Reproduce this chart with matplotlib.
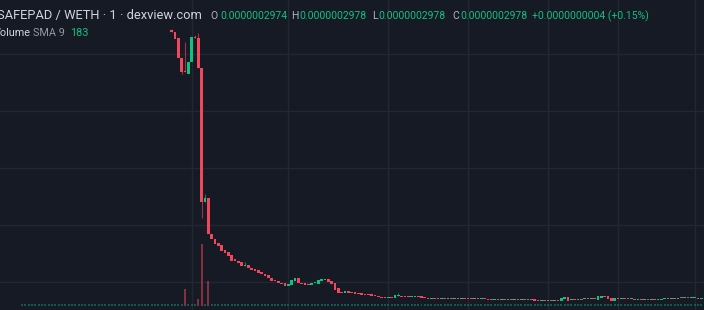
import matplotlib.pyplot as plt

# -----------------------------
# Candle data (price in 1e-9 WETH), one entry per 1-minute candle
# -----------------------------
opens = [
    5021, 4986, 4881, 4530, 4302, 4249, 4460, 4898, 4881, 4354,
    2003, 2074, 1442, 1354, 1284, 1249, 1161, 1126, 1074, 995,
    968, 951, 881, 898, 851, 828, 802, 767, 740, 723,
    670, 635, 617, 591, 574, 530, 547, 623, 665, 582,
    574, 565, 553, 579, 565, 623, 635, 653, 617, 577,
    489, 419, 402, 442, 425, 430, 407, 402, 389, 389,
    384, 377, 354, 337, 337, 325, 333, 325, 349, 363,
    349, 346, 337, 340, 346, 354, 319, 314, 307, 314,
    311, 305, 311, 307, 311, 305, 311, 307, 314, 325,
    302, 296, 302, 297, 302, 305, 293, 288, 293, 290,
    296, 290, 293, 288, 293, 288, 290, 286, 290, 297,
    272, 267, 272, 268, 272, 267, 270, 267, 307, 342,
    284, 290, 284, 293, 297, 314, 305, 311, 284, 325,
    354, 354, 325, 267, 314, 305, 311, 302, 296, 302,
    293, 300, 290, 297, 290, 297, 293, 293, 300, 305,
    300, 307, 302, 319, 314, 319, 314, 314, 325, 297.4,
]
closes = [
    4986, 4863, 4530, 4284, 4284, 4460, 4898, 4872, 4354, 2003,
    2074, 1442, 1354, 1275, 1232, 1144, 1109, 1056, 968, 960,
    942, 881, 898, 840, 819, 793, 758, 732, 714, 665,
    623, 612, 591, 565, 530, 565, 635, 665, 582, 565,
    553, 556, 588, 588, 635, 647, 653, 605, 560, 460,
    402, 402, 447, 412, 407, 384, 384, 377, 372, 366,
    354, 349, 332, 328, 325, 333, 325, 372, 363, 342,
    337, 337, 346, 346, 340, 311, 311, 307, 314, 307,
    305, 311, 305, 311, 305, 311, 307, 314, 307, 297,
    296, 302, 297, 302, 296, 293, 288, 293, 288, 296,
    290, 293, 288, 293, 288, 290, 286, 290, 286, 267,
    267, 272, 268, 272, 267, 270, 267, 325, 342, 272,
    290, 284, 293, 286, 314, 305, 311, 302, 354, 354,
    337, 297, 267, 314, 305, 311, 302, 296, 302, 293,
    300, 290, 297, 290, 297, 293, 300, 302, 305, 300,
    307, 302, 325, 314, 319, 314, 317, 332, 302, 297.8,
]
# wicks that reach beyond the body
wick_high = {0: 5039, 4: 4811, 7: 4933, 8: 4968, 10: 2144, 22: 951, 68: 402}
wick_low = {3: 4249, 9: 1723}

# volume: bars before the first traded candle, then one per candle
volume_pre = [
    180, 180, 180, 180, 180, 180, 180, 180, 180, 180, 180, 180, 180, 180, 180,
    180, 180, 180, 180, 180, 180, 180, 180, 180, 180, 180, 180, 180, 180, 180,
    180, 180, 180, 180, 180, 180, 180, 180, 180, 180, 180, 180, 180, 180, 180,
]
volume_big = {4: 1530, 8: 630, 9: 5580, 11: 2250}
volume_small = 180

# vertical grid (time ticks) and horizontal grid (price levels)
time_ticks = [6, 35, 65, 89, 113, 134, 157]
price_levels = [600, 1600, 2600, 3600, 4600]

BG = "#161a25"
GRID = "#232733"
UP = "#12c07f"
DOWN = "#f0475c"

# -----------------------------
# Plot
# -----------------------------
fig = plt.figure(figsize=(7.04, 3.10), dpi=100)
fig.patch.set_facecolor(BG)
ax = fig.add_axes([0, 0, 1, 1])
ax.set_facecolor(BG)

n = len(opens)
px = 17.544  # price units per pixel
x = list(range(n))
bottoms, heights, colors = [], [], []
for i in x:
    o, c = opens[i], closes[i]
    col = UP if c >= o else DOWN
    colors.append(col)
    lo, hi = min(o, c), max(o, c)
    h = max(hi - lo, px)
    bottoms.append(lo)
    heights.append(h)
    top = wick_high.get(i, hi)
    bot = wick_low.get(i, lo)
    if top > hi or bot < lo:
        ax.vlines(i, bot, top, color=col, linewidth=0.8, alpha=0.6, zorder=2)

ax.bar(x, heights, bottom=bottoms, width=0.8, color=colors, linewidth=0, zorder=3)

for t in time_ticks:
    ax.axvline(t, color=GRID, linewidth=1, zorder=0)
for p in price_levels:
    ax.axhline(p, color=GRID, linewidth=1, zorder=0)

ax.set_xlim(-51.6, 159.85)
ax.set_ylim(108.8, 5547.4)
ax.axis("off")

# volume overlay
vax = fig.add_axes([0, 0, 1, 1], sharex=ax)
vax.patch.set_alpha(0)
vx = list(range(-len(volume_pre), n))
vols = volume_pre + [volume_big.get(i, volume_small) for i in x]
vcol = []
for i in vx:
    if i in volume_big:
        vcol.append((0.94, 0.28, 0.36, 0.5))
    else:
        vcol.append((0.05, 0.55, 0.45, 0.55))
vax.bar(vx, vols, width=0.6, color=vcol, linewidth=0)
vax.set_ylim(-360, 27540)
vax.axis("off")

# -----------------------------
# Header texts
# -----------------------------
def ptext(xp, yp, s, color, size, **kw):
    fig.text(xp / 704, 1 - yp / 310, s, color=color, fontsize=size,
             family="Roboto", va="baseline", ha="left", **kw)

ptext(-3, 19, "SAFEPAD / WETH · 1 · dexview.com", "#d1d4dc", 9.3)
ptext(210, 19, "O", "#b2b5be", 7.5)
ptext(220, 19, "0.0000002974", UP, 7.5)
ptext(291, 19, "H", "#b2b5be", 7.5)
ptext(299, 19, "0.0000002978", UP, 7.5)
ptext(372, 19, "L", "#b2b5be", 7.5)
ptext(378, 19, "0.0000002978", UP, 7.5)
ptext(452, 19, "C", "#b2b5be", 7.5)
ptext(460, 19, "0.0000002978", UP, 7.5)
ptext(532, 19, "+0.0000000004 (+0.15%)", UP, 7.5)

ptext(-6, 36, "Volume", "#d1d4dc", 7.8)
ptext(33, 36, "SMA 9", "#9598a1", 7.8)
ptext(70, 36, "183", UP, 7.8)

fig.savefig("out.png", dpi=100, facecolor=BG)
